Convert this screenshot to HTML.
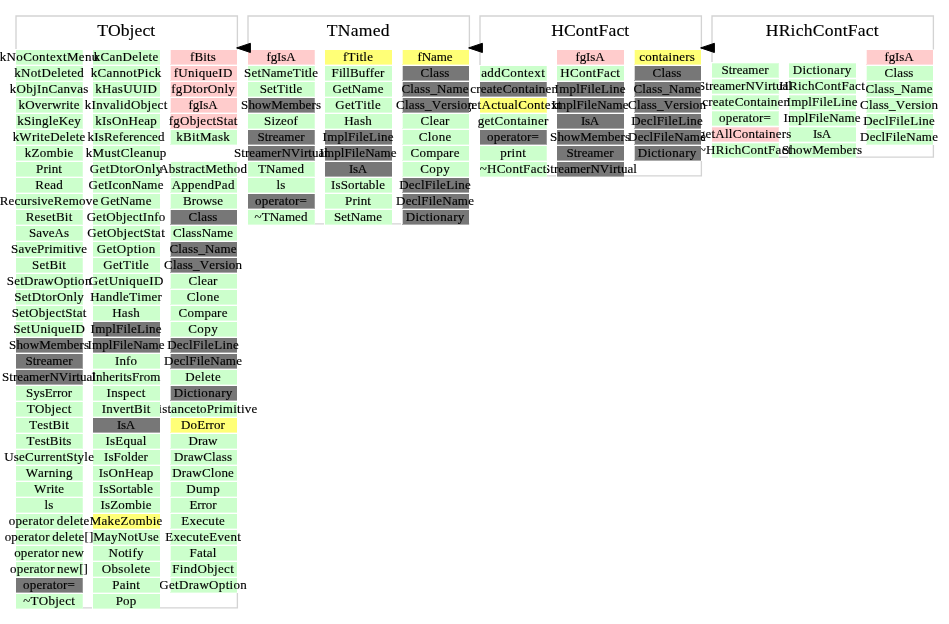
<!DOCTYPE html>
<html><head><meta charset="utf-8"><title>Class chart</title>
<style>
html,body{margin:0;padding:0;background:#fff;}
body{will-change:transform;width:949px;height:624px;position:relative;overflow:hidden;font-family:"Liberation Serif",serif;color:#000;font-kerning:none;-webkit-text-stroke:0.15px #000;}
.t{position:absolute;text-align:center;font-size:17.6px;line-height:20px;white-space:nowrap;letter-spacing:0px;}
.c{position:absolute;width:67px;height:14px;display:flex;justify-content:center;white-space:nowrap;font-size:13px;line-height:14px;letter-spacing:0.3px;word-spacing:-1px;}
.c span{flex:none;position:relative;left:-0.35px;top:0px;}
svg{position:absolute;left:0;top:0;}
.sh span{top:-1px;}

.g1{background:linear-gradient(to right,#ccffcc 0,#ccffcc 66px,#d9ffd9 66px);box-shadow:0 1px 0 0 #dfffdf,-1px 1px 0 0 #fff,-1px -1px 0 0 #fff;}
.g2{background:#ccffcc;box-shadow:0 1px 0 0 #dfffdf,-1px 1px 0 0 #fff,-1px -1px 0 0 #fff;}
.g3{background:linear-gradient(to right,#f0fff0 0,#f0fff0 1px,#ccffcc 1px);box-shadow:0 1px 0 0 #dfffdf,-1px 1px 0 0 #fff,-1px -1px 0 0 #fff;}
.g1s{height:13px;line-height:13px;background:linear-gradient(to right,#ccffcc 0,#ccffcc 66px,#d9ffd9 66px);box-shadow:0 1px 0 0 #ddffdd,0 -1px 0 0 #dbffdb,-1px -2px 0 0 #fff,-1px 2px 0 0 #fff;}
.g2s{height:13px;line-height:13px;background:#ccffcc;box-shadow:0 1px 0 0 #ddffdd,0 -1px 0 0 #dbffdb,-1px -2px 0 0 #fff,-1px 2px 0 0 #fff;}
.p1{background:linear-gradient(to right,#ffcccc 0,#ffcccc 66px,#ffd9d9 66px);box-shadow:0 1px 0 0 #ffdfdf,-1px 1px 0 0 #fff,-1px -1px 0 0 #fff;}
.p2{background:#ffcccc;box-shadow:0 1px 0 0 #ffdfdf,-1px 1px 0 0 #fff,-1px -1px 0 0 #fff;}
.p3{background:linear-gradient(to right,#fff0f0 0,#fff0f0 1px,#ffcccc 1px);box-shadow:0 1px 0 0 #ffdfdf,-1px 1px 0 0 #fff,-1px -1px 0 0 #fff;}
.p1s{height:13px;line-height:13px;background:linear-gradient(to right,#ffcccc 0,#ffcccc 66px,#ffd9d9 66px);box-shadow:0 1px 0 0 #ffdddd,0 -1px 0 0 #ffdbdb,-1px -2px 0 0 #fff,-1px 2px 0 0 #fff;}
.p2s{height:13px;line-height:13px;background:#ffcccc;box-shadow:0 1px 0 0 #ffdddd,0 -1px 0 0 #ffdbdb,-1px -2px 0 0 #fff,-1px 2px 0 0 #fff;}
.y1{background:linear-gradient(to right,#ffff77 0,#ffff77 66px,#ffff99 66px);box-shadow:0 1px 0 0 #ffffab,-1px 1px 0 0 #fff,-1px -1px 0 0 #fff;}
.y2{background:#ffff77;box-shadow:0 1px 0 0 #ffffab,-1px 1px 0 0 #fff,-1px -1px 0 0 #fff;}
.y3{background:linear-gradient(to right,#ffffd6 0,#ffffd6 1px,#ffff77 1px);box-shadow:0 1px 0 0 #ffffab,-1px 1px 0 0 #fff,-1px -1px 0 0 #fff;}
.y1s{height:13px;line-height:13px;background:linear-gradient(to right,#ffff77 0,#ffff77 66px,#ffff99 66px);box-shadow:0 1px 0 0 #ffffa4,0 -1px 0 0 #ffffa0,-1px -2px 0 0 #fff,-1px 2px 0 0 #fff;}
.y2s{height:13px;line-height:13px;background:#ffff77;box-shadow:0 1px 0 0 #ffffa4,0 -1px 0 0 #ffffa0,-1px -2px 0 0 #fff,-1px 2px 0 0 #fff;}
.k1{background:linear-gradient(to right,#777777 0,#777777 66px,#999999 66px);box-shadow:0 1px 0 0 #ababab,-1px 1px 0 0 #fff,-1px -1px 0 0 #fff;}
.k2{background:#777777;box-shadow:0 1px 0 0 #ababab,-1px 1px 0 0 #fff,-1px -1px 0 0 #fff;}
.k3{background:linear-gradient(to right,#d6d6d6 0,#d6d6d6 1px,#777777 1px);box-shadow:0 1px 0 0 #ababab,-1px 1px 0 0 #fff,-1px -1px 0 0 #fff;}
.k1s{height:13px;line-height:13px;background:linear-gradient(to right,#777777 0,#777777 66px,#999999 66px);box-shadow:0 1px 0 0 #a4a4a4,0 -1px 0 0 #a0a0a0,-1px -2px 0 0 #fff,-1px 2px 0 0 #fff;}
.k2s{height:13px;line-height:13px;background:#777777;box-shadow:0 1px 0 0 #a4a4a4,0 -1px 0 0 #a0a0a0,-1px -2px 0 0 #fff,-1px 2px 0 0 #fff;}
</style></head><body>
<svg width="949" height="624" viewBox="0 0 949 624"><path d="M933.4 49.5V16H712V157.1H933.4V145" fill="none" stroke="#d3d3d3" stroke-width="1.33"/></svg>
<div class="t" style="left:711.8px;top:20.3px;width:221px;letter-spacing:0.2px">HRichContFact</div>
<div class="c p3" style="left:866px;top:50px"><span style="letter-spacing:-0.121px;left:-0.56px">fgIsA</span></div>
<div class="c g3" style="left:866px;top:66px"><span style="letter-spacing:0.166px;left:-0.42px">Class</span></div>
<div class="c g3" style="left:866px;top:82px"><span style="letter-spacing:0.129px;left:-0.44px">Class_Name</span></div>
<div class="c g3" style="left:866px;top:98px"><span style="letter-spacing:0.167px;left:-0.42px">Class_Version</span></div>
<div class="c g3" style="left:866px;top:114px"><span style="letter-spacing:0.284px;left:-0.36px">DeclFileLine</span></div>
<div class="c g3" style="left:866px;top:130px"><span style="letter-spacing:0.183px;left:-0.41px">DeclFileName</span></div>
<div class="c g2s sh" style="left:789px;top:64px"><span style="letter-spacing:0.341px;left:-0.33px">Dictionary</span></div>
<div class="c g2s sh" style="left:789px;top:80px"><span style="letter-spacing:0.338px;left:-0.33px">HRichContFact</span></div>
<div class="c g2s sh" style="left:789px;top:96px"><span style="letter-spacing:0.2px;left:-0.4px">ImplFileLine</span></div>
<div class="c g2s sh" style="left:789px;top:112px"><span style="letter-spacing:0.099px;left:-0.45px">ImplFileName</span></div>
<div class="c g2s sh" style="left:789px;top:128px"><span style="letter-spacing:-0.259px;left:-0.63px">IsA</span></div>
<div class="c g2s sh" style="left:789px;top:144px"><span style="letter-spacing:0.117px;left:-0.44px">ShowMembers</span></div>
<div class="c g1s sh" style="left:712px;top:64px"><span style="letter-spacing:0.01px;left:-0.49px">Streamer</span></div>
<div class="c g1s sh" style="left:712px;top:80px"><span style="letter-spacing:0.054px;left:-0.47px">StreamerNVirtual</span></div>
<div class="c g1s sh" style="left:712px;top:96px"><span style="letter-spacing:0.248px;left:-0.38px">createContainer</span></div>
<div class="c g1s sh" style="left:712px;top:112px"><span style="letter-spacing:0.151px;left:-0.42px">operator=</span></div>
<div class="c p1s sh" style="left:712px;top:128px"><span style="letter-spacing:0.261px;left:-0.37px">getAllContainers</span></div>
<div class="c g1s sh" style="left:712px;top:144px"><span style="letter-spacing:0.312px;left:-0.34px">~HRichContFact</span></div>
<svg width="949" height="624" viewBox="0 0 949 624"><path d="M701.4 49.5V16H480V175.8H701.4V161" fill="none" stroke="#d3d3d3" stroke-width="1.33"/></svg>
<div class="t" style="left:479.75px;top:20.3px;width:221px;letter-spacing:0.1px">HContFact</div>
<div class="c y3" style="left:634px;top:50px"><span style="letter-spacing:0.258px;left:-0.37px">containers</span></div>
<div class="c k3" style="left:634px;top:66px"><span style="letter-spacing:0.166px;left:-0.42px">Class</span></div>
<div class="c k3" style="left:634px;top:82px"><span style="letter-spacing:0.129px;left:-0.44px">Class_Name</span></div>
<div class="c k3" style="left:634px;top:98px"><span style="letter-spacing:0.167px;left:-0.42px">Class_Version</span></div>
<div class="c k3" style="left:634px;top:114px"><span style="letter-spacing:0.284px;left:-0.36px">DeclFileLine</span></div>
<div class="c k3" style="left:634px;top:130px"><span style="letter-spacing:0.183px;left:-0.41px">DeclFileName</span></div>
<div class="c k3" style="left:634px;top:146px"><span style="letter-spacing:0.341px;left:-0.33px">Dictionary</span></div>
<div class="c p2" style="left:557px;top:50px"><span style="letter-spacing:-0.121px;left:-0.56px">fgIsA</span></div>
<div class="c g2" style="left:557px;top:66px"><span style="letter-spacing:0.327px;left:-0.34px">HContFact</span></div>
<div class="c k2" style="left:557px;top:82px"><span style="letter-spacing:0.2px;left:-0.4px">ImplFileLine</span></div>
<div class="c k2" style="left:557px;top:98px"><span style="letter-spacing:0.099px;left:-0.45px">ImplFileName</span></div>
<div class="c k2" style="left:557px;top:114px"><span style="letter-spacing:-0.259px;left:-0.63px">IsA</span></div>
<div class="c k2" style="left:557px;top:130px"><span style="letter-spacing:0.117px;left:-0.44px">ShowMembers</span></div>
<div class="c k2" style="left:557px;top:146px"><span style="letter-spacing:0.01px;left:-0.49px">Streamer</span></div>
<div class="c k2" style="left:557px;top:162px"><span style="letter-spacing:0.054px;left:-0.47px">StreamerNVirtual</span></div>
<div class="c g1" style="left:480px;top:66px"><span style="letter-spacing:0.407px;left:-0.3px">addContext</span></div>
<div class="c k1" style="left:480px;top:82px"><span style="letter-spacing:0.248px;left:-0.38px">createContainer</span></div>
<div class="c y1" style="left:480px;top:98px"><span style="letter-spacing:0.331px;left:-0.33px">getActualContext</span></div>
<div class="c g1" style="left:480px;top:114px"><span style="letter-spacing:0.321px;left:-0.34px">getContainer</span></div>
<div class="c k1" style="left:480px;top:130px"><span style="letter-spacing:0.151px;left:-0.42px">operator=</span></div>
<div class="c g1" style="left:480px;top:146px"><span style="letter-spacing:0.289px;left:-0.36px">print</span></div>
<div class="c g1" style="left:480px;top:162px"><span style="letter-spacing:0.291px;left:-0.35px">~HContFact</span></div>
<svg width="949" height="624" viewBox="0 0 949 624"><path d="M469.4 49.5V16H248V223.8H469.4" fill="none" stroke="#d3d3d3" stroke-width="1.33"/></svg>
<div class="t" style="left:247.81px;top:20.3px;width:221px;letter-spacing:0.23px">TNamed</div>
<div class="c y3" style="left:402px;top:50px"><span style="letter-spacing:-0.074px;left:-0.54px">fName</span></div>
<div class="c k3" style="left:402px;top:66px"><span style="letter-spacing:0.166px;left:-0.42px">Class</span></div>
<div class="c k3" style="left:402px;top:82px"><span style="letter-spacing:0.129px;left:-0.44px">Class_Name</span></div>
<div class="c k3" style="left:402px;top:98px"><span style="letter-spacing:0.167px;left:-0.42px">Class_Version</span></div>
<div class="c g3" style="left:402px;top:114px"><span style="letter-spacing:0.17px;left:-0.41px">Clear</span></div>
<div class="c g3" style="left:402px;top:130px"><span style="letter-spacing:0.389px;left:-0.31px">Clone</span></div>
<div class="c g3" style="left:402px;top:146px"><span style="letter-spacing:0.193px;left:-0.4px">Compare</span></div>
<div class="c g3" style="left:402px;top:162px"><span style="letter-spacing:0.457px;left:-0.27px">Copy</span></div>
<div class="c k3" style="left:402px;top:178px"><span style="letter-spacing:0.284px;left:-0.36px">DeclFileLine</span></div>
<div class="c k3" style="left:402px;top:194px"><span style="letter-spacing:0.183px;left:-0.41px">DeclFileName</span></div>
<div class="c k3" style="left:402px;top:210px"><span style="letter-spacing:0.341px;left:-0.33px">Dictionary</span></div>
<div class="c y2" style="left:325px;top:50px"><span style="letter-spacing:0.187px;left:-0.41px">fTitle</span></div>
<div class="c g2" style="left:325px;top:66px"><span style="letter-spacing:0.101px;left:-0.45px">FillBuffer</span></div>
<div class="c g2" style="left:325px;top:82px"><span style="letter-spacing:0.17px;left:-0.41px">GetName</span></div>
<div class="c g2" style="left:325px;top:98px"><span style="letter-spacing:0.335px;left:-0.33px">GetTitle</span></div>
<div class="c g2" style="left:325px;top:114px"><span style="letter-spacing:0.321px;left:-0.34px">Hash</span></div>
<div class="c k2" style="left:325px;top:130px"><span style="letter-spacing:0.2px;left:-0.4px">ImplFileLine</span></div>
<div class="c k2" style="left:325px;top:146px"><span style="letter-spacing:0.099px;left:-0.45px">ImplFileName</span></div>
<div class="c k2" style="left:325px;top:162px"><span style="letter-spacing:-0.259px;left:-0.63px">IsA</span></div>
<div class="c g2" style="left:325px;top:178px"><span style="letter-spacing:0.129px;left:-0.44px">IsSortable</span></div>
<div class="c g2" style="left:325px;top:194px"><span style="letter-spacing:0.143px;left:-0.43px">Print</span></div>
<div class="c g2" style="left:325px;top:210px"><span style="letter-spacing:0.05px;left:-0.47px">SetName</span></div>
<div class="c p1" style="left:248px;top:50px"><span style="letter-spacing:-0.121px;left:-0.56px">fgIsA</span></div>
<div class="c g1" style="left:248px;top:66px"><span style="letter-spacing:0.15px;left:-0.42px">SetNameTitle</span></div>
<div class="c g1" style="left:248px;top:82px"><span style="letter-spacing:0.23px;left:-0.39px">SetTitle</span></div>
<div class="c k1" style="left:248px;top:98px"><span style="letter-spacing:0.117px;left:-0.44px">ShowMembers</span></div>
<div class="c g1" style="left:248px;top:114px"><span style="letter-spacing:0.132px;left:-0.43px">Sizeof</span></div>
<div class="c k1" style="left:248px;top:130px"><span style="letter-spacing:0.01px;left:-0.49px">Streamer</span></div>
<div class="c k1" style="left:248px;top:146px"><span style="letter-spacing:0.054px;left:-0.47px">StreamerNVirtual</span></div>
<div class="c g1" style="left:248px;top:162px"><span style="letter-spacing:0.087px;left:-0.46px">TNamed</span></div>
<div class="c g1" style="left:248px;top:178px"><span style="letter-spacing:0.165px;left:-0.42px">ls</span></div>
<div class="c k1" style="left:248px;top:194px"><span style="letter-spacing:0.151px;left:-0.42px">operator=</span></div>
<div class="c g1" style="left:248px;top:210px"><span style="letter-spacing:0.069px;left:-0.47px">~TNamed</span></div>
<svg width="949" height="624" viewBox="0 0 949 624"><path d="M237.4 49.5V16H16V607.8H237.4V593" fill="none" stroke="#d3d3d3" stroke-width="1.33"/></svg>
<div class="t" style="left:15.72px;top:20.3px;width:221px;letter-spacing:0.05px">TObject</div>
<div class="c p3" style="left:170px;top:50px"><span style="letter-spacing:0.143px;left:-0.43px">fBits</span></div>
<div class="c p3" style="left:170px;top:66px"><span style="letter-spacing:0.298px;left:-0.35px">fUniqueID</span></div>
<div class="c p3" style="left:170px;top:82px"><span style="letter-spacing:0.334px;left:-0.33px">fgDtorOnly</span></div>
<div class="c p3" style="left:170px;top:98px"><span style="letter-spacing:-0.121px;left:-0.56px">fgIsA</span></div>
<div class="c p3" style="left:170px;top:114px"><span style="letter-spacing:0.275px;left:-0.36px">fgObjectStat</span></div>
<div class="c g3" style="left:170px;top:130px"><span style="letter-spacing:0.34px;left:-0.33px">kBitMask</span></div>
<div class="c g3" style="left:170px;top:162px"><span style="letter-spacing:0.251px;left:-0.37px">AbstractMethod</span></div>
<div class="c g3" style="left:170px;top:178px"><span style="letter-spacing:0.26px;left:-0.37px">AppendPad</span></div>
<div class="c g3" style="left:170px;top:194px"><span style="letter-spacing:0.047px;left:-0.48px">Browse</span></div>
<div class="c k3" style="left:170px;top:210px"><span style="letter-spacing:0.166px;left:-0.42px">Class</span></div>
<div class="c g3" style="left:170px;top:226px"><span style="letter-spacing:0.088px;left:-0.46px">ClassName</span></div>
<div class="c k3" style="left:170px;top:242px"><span style="letter-spacing:0.129px;left:-0.44px">Class_Name</span></div>
<div class="c k3" style="left:170px;top:258px"><span style="letter-spacing:0.167px;left:-0.42px">Class_Version</span></div>
<div class="c g3" style="left:170px;top:274px"><span style="letter-spacing:0.17px;left:-0.41px">Clear</span></div>
<div class="c g3" style="left:170px;top:290px"><span style="letter-spacing:0.389px;left:-0.31px">Clone</span></div>
<div class="c g3" style="left:170px;top:306px"><span style="letter-spacing:0.193px;left:-0.4px">Compare</span></div>
<div class="c g3" style="left:170px;top:322px"><span style="letter-spacing:0.457px;left:-0.27px">Copy</span></div>
<div class="c k3" style="left:170px;top:338px"><span style="letter-spacing:0.284px;left:-0.36px">DeclFileLine</span></div>
<div class="c k3" style="left:170px;top:354px"><span style="letter-spacing:0.183px;left:-0.41px">DeclFileName</span></div>
<div class="c g3" style="left:170px;top:370px"><span style="letter-spacing:0.346px;left:-0.33px">Delete</span></div>
<div class="c k3" style="left:170px;top:386px"><span style="letter-spacing:0.341px;left:-0.33px">Dictionary</span></div>
<div class="c g3" style="left:170px;top:402px"><span style="letter-spacing:0.264px;left:-0.37px">DistancetoPrimitive</span></div>
<div class="c y3" style="left:170px;top:418px"><span style="letter-spacing:0.098px;left:-0.45px">DoError</span></div>
<div class="c g3" style="left:170px;top:434px"><span style="letter-spacing:0.031px;left:-0.48px">Draw</span></div>
<div class="c g3" style="left:170px;top:450px"><span style="letter-spacing:0.106px;left:-0.45px">DrawClass</span></div>
<div class="c g3" style="left:170px;top:466px"><span style="letter-spacing:0.23px;left:-0.39px">DrawClone</span></div>
<div class="c g3" style="left:170px;top:482px"><span style="letter-spacing:0.375px;left:-0.31px">Dump</span></div>
<div class="c g3" style="left:170px;top:498px"><span style="letter-spacing:-0.086px;left:-0.54px">Error</span></div>
<div class="c g3" style="left:170px;top:514px"><span style="letter-spacing:0.305px;left:-0.35px">Execute</span></div>
<div class="c g3" style="left:170px;top:530px"><span style="letter-spacing:0.318px;left:-0.34px">ExecuteEvent</span></div>
<div class="c g3" style="left:170px;top:546px"><span style="letter-spacing:0.201px;left:-0.4px">Fatal</span></div>
<div class="c g3" style="left:170px;top:562px"><span style="letter-spacing:0.351px;left:-0.32px">FindObject</span></div>
<div class="c g3" style="left:170px;top:578px"><span style="letter-spacing:0.326px;left:-0.34px">GetDrawOption</span></div>
<div class="c g2" style="left:93px;top:50px"><span style="letter-spacing:0.364px;left:-0.32px">kCanDelete</span></div>
<div class="c g2" style="left:93px;top:66px"><span style="letter-spacing:0.349px;left:-0.33px">kCannotPick</span></div>
<div class="c g2" style="left:93px;top:82px"><span style="letter-spacing:0.349px;left:-0.33px">kHasUUID</span></div>
<div class="c g2" style="left:93px;top:98px"><span style="letter-spacing:0.359px;left:-0.32px">kInvalidObject</span></div>
<div class="c g2" style="left:93px;top:114px"><span style="letter-spacing:0.311px;left:-0.34px">kIsOnHeap</span></div>
<div class="c g2" style="left:93px;top:130px"><span style="letter-spacing:0.149px;left:-0.43px">kIsReferenced</span></div>
<div class="c g2" style="left:93px;top:146px"><span style="letter-spacing:0.371px;left:-0.31px">kMustCleanup</span></div>
<div class="c g2" style="left:93px;top:162px"><span style="letter-spacing:0.4px;left:-0.3px">GetDtorOnly</span></div>
<div class="c g2" style="left:93px;top:178px"><span style="letter-spacing:0.19px;left:-0.41px">GetIconName</span></div>
<div class="c g2" style="left:93px;top:194px"><span style="letter-spacing:0.17px;left:-0.41px">GetName</span></div>
<div class="c g2" style="left:93px;top:210px"><span style="letter-spacing:0.302px;left:-0.35px">GetObjectInfo</span></div>
<div class="c g2" style="left:93px;top:226px"><span style="letter-spacing:0.335px;left:-0.33px">GetObjectStat</span></div>
<div class="c g2" style="left:93px;top:242px"><span style="letter-spacing:0.458px;left:-0.27px">GetOption</span></div>
<div class="c g2" style="left:93px;top:258px"><span style="letter-spacing:0.335px;left:-0.33px">GetTitle</span></div>
<div class="c g2" style="left:93px;top:274px"><span style="letter-spacing:0.386px;left:-0.31px">GetUniqueID</span></div>
<div class="c g2" style="left:93px;top:290px"><span style="letter-spacing:0.245px;left:-0.38px">HandleTimer</span></div>
<div class="c g2" style="left:93px;top:306px"><span style="letter-spacing:0.321px;left:-0.34px">Hash</span></div>
<div class="c k2" style="left:93px;top:322px"><span style="letter-spacing:0.2px;left:-0.4px">ImplFileLine</span></div>
<div class="c k2" style="left:93px;top:338px"><span style="letter-spacing:0.099px;left:-0.45px">ImplFileName</span></div>
<div class="c g2" style="left:93px;top:354px"><span style="letter-spacing:0.085px;left:-0.46px">Info</span></div>
<div class="c g2" style="left:93px;top:370px"><span style="letter-spacing:0.093px;left:-0.45px">InheritsFrom</span></div>
<div class="c g2" style="left:93px;top:386px"><span style="letter-spacing:0.209px;left:-0.4px">Inspect</span></div>
<div class="c g2" style="left:93px;top:402px"><span style="letter-spacing:0.229px;left:-0.39px">InvertBit</span></div>
<div class="c k2" style="left:93px;top:418px"><span style="letter-spacing:-0.259px;left:-0.63px">IsA</span></div>
<div class="c g2" style="left:93px;top:434px"><span style="letter-spacing:0.184px;left:-0.41px">IsEqual</span></div>
<div class="c g2" style="left:93px;top:450px"><span style="letter-spacing:0.084px;left:-0.46px">IsFolder</span></div>
<div class="c g2" style="left:93px;top:466px"><span style="letter-spacing:0.287px;left:-0.36px">IsOnHeap</span></div>
<div class="c g2" style="left:93px;top:482px"><span style="letter-spacing:0.129px;left:-0.44px">IsSortable</span></div>
<div class="c g2" style="left:93px;top:498px"><span style="letter-spacing:0.147px;left:-0.43px">IsZombie</span></div>
<div class="c y2" style="left:93px;top:514px"><span style="letter-spacing:0.297px;left:-0.35px">MakeZombie</span></div>
<div class="c g2" style="left:93px;top:530px"><span style="letter-spacing:0.273px;left:-0.36px">MayNotUse</span></div>
<div class="c g2" style="left:93px;top:546px"><span style="letter-spacing:0.177px;left:-0.41px">Notify</span></div>
<div class="c g2" style="left:93px;top:562px"><span style="letter-spacing:0.349px;left:-0.33px">Obsolete</span></div>
<div class="c g2" style="left:93px;top:578px"><span style="letter-spacing:0.255px;left:-0.37px">Paint</span></div>
<div class="c g2" style="left:93px;top:594px"><span style="letter-spacing:0.257px;left:-0.37px">Pop</span></div>
<div class="c g1" style="left:16px;top:50px"><span style="letter-spacing:0.366px;left:-0.32px">kNoContextMenu</span></div>
<div class="c g1" style="left:16px;top:66px"><span style="letter-spacing:0.325px;left:-0.34px">kNotDeleted</span></div>
<div class="c g1" style="left:16px;top:82px"><span style="letter-spacing:0.325px;left:-0.34px">kObjInCanvas</span></div>
<div class="c g1" style="left:16px;top:98px"><span style="letter-spacing:0.18px;left:-0.41px">kOverwrite</span></div>
<div class="c g1" style="left:16px;top:114px"><span style="letter-spacing:0.262px;left:-0.37px">kSingleKey</span></div>
<div class="c g1" style="left:16px;top:130px"><span style="letter-spacing:0.249px;left:-0.38px">kWriteDelete</span></div>
<div class="c g1" style="left:16px;top:146px"><span style="letter-spacing:0.295px;left:-0.35px">kZombie</span></div>
<div class="c g1" style="left:16px;top:162px"><span style="letter-spacing:0.143px;left:-0.43px">Print</span></div>
<div class="c g1" style="left:16px;top:178px"><span style="letter-spacing:0.322px;left:-0.34px">Read</span></div>
<div class="c g1" style="left:16px;top:194px"><span style="letter-spacing:0.246px;left:-0.38px">RecursiveRemove</span></div>
<div class="c g1" style="left:16px;top:210px"><span style="letter-spacing:0.278px;left:-0.36px">ResetBit</span></div>
<div class="c g1" style="left:16px;top:226px"><span style="letter-spacing:0.047px;left:-0.48px">SaveAs</span></div>
<div class="c g1" style="left:16px;top:242px"><span style="letter-spacing:0.18px;left:-0.41px">SavePrimitive</span></div>
<div class="c g1" style="left:16px;top:258px"><span style="letter-spacing:0.249px;left:-0.38px">SetBit</span></div>
<div class="c g1" style="left:16px;top:274px"><span style="letter-spacing:0.262px;left:-0.37px">SetDrawOption</span></div>
<div class="c g1" style="left:16px;top:290px"><span style="letter-spacing:0.324px;left:-0.34px">SetDtorOnly</span></div>
<div class="c g1" style="left:16px;top:306px"><span style="letter-spacing:0.27px;left:-0.36px">SetObjectStat</span></div>
<div class="c g1" style="left:16px;top:322px"><span style="letter-spacing:0.309px;left:-0.35px">SetUniqueID</span></div>
<div class="c k1" style="left:16px;top:338px"><span style="letter-spacing:0.117px;left:-0.44px">ShowMembers</span></div>
<div class="c k1" style="left:16px;top:354px"><span style="letter-spacing:0.01px;left:-0.49px">Streamer</span></div>
<div class="c k1" style="left:16px;top:370px"><span style="letter-spacing:0.054px;left:-0.47px">StreamerNVirtual</span></div>
<div class="c g1" style="left:16px;top:386px"><span style="letter-spacing:-0.027px;left:-0.51px">SysError</span></div>
<div class="c g1" style="left:16px;top:402px"><span style="letter-spacing:0.344px;left:-0.33px">TObject</span></div>
<div class="c g1" style="left:16px;top:418px"><span style="letter-spacing:0.246px;left:-0.38px">TestBit</span></div>
<div class="c g1" style="left:16px;top:434px"><span style="letter-spacing:0.208px;left:-0.4px">TestBits</span></div>
<div class="c g1" style="left:16px;top:450px"><span style="letter-spacing:0.223px;left:-0.39px">UseCurrentStyle</span></div>
<div class="c g1" style="left:16px;top:466px"><span style="letter-spacing:0.217px;left:-0.39px">Warning</span></div>
<div class="c g1" style="left:16px;top:482px"><span style="letter-spacing:0.081px;left:-0.46px">Write</span></div>
<div class="c g1" style="left:16px;top:498px"><span style="letter-spacing:0.165px;left:-0.42px">ls</span></div>
<div class="c g1" style="left:16px;top:514px"><span style="letter-spacing:0.294px;left:-0.35px">operator delete</span></div>
<div class="c g1" style="left:16px;top:530px"><span style="letter-spacing:0.22px;left:-0.39px">operator delete[]</span></div>
<div class="c g1" style="left:16px;top:546px"><span style="letter-spacing:0.232px;left:-0.38px">operator new</span></div>
<div class="c g1" style="left:16px;top:562px"><span style="letter-spacing:0.152px;left:-0.42px">operator new[]</span></div>
<div class="c k1" style="left:16px;top:578px"><span style="letter-spacing:0.151px;left:-0.42px">operator=</span></div>
<div class="c g1" style="left:16px;top:594px"><span style="letter-spacing:0.297px;left:-0.35px">~TObject</span></div>
<svg width="949" height="624" viewBox="0 0 949 624">
<polygon points="236.65,47.9 250.4,43.3 250.4,52.5" fill="#000" stroke="#000" stroke-width="1" stroke-linejoin="round"/>
<polygon points="468.65,47.9 482.4,43.3 482.4,52.5" fill="#000" stroke="#000" stroke-width="1" stroke-linejoin="round"/>
<polygon points="700.65,47.9 714.4,43.3 714.4,52.5" fill="#000" stroke="#000" stroke-width="1" stroke-linejoin="round"/>
</svg>
</body></html>
